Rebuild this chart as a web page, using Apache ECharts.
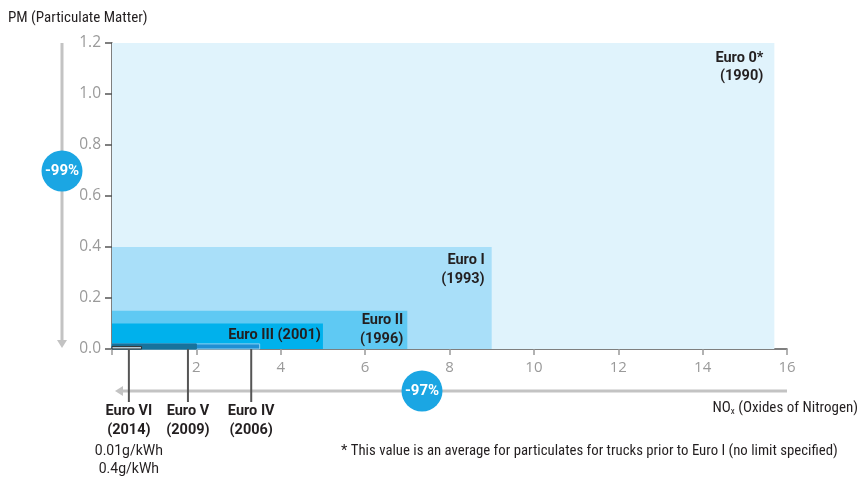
<!DOCTYPE html>
<html>
<head>
<meta charset="utf-8">
<script src="https://cdn.jsdelivr.net/npm/echarts@6/dist/echarts.min.js"></script>
<style>
html,body{margin:0;padding:0;background:#fff;}
#chart{width:861px;height:477px;}
</style>
</head>
<body>
<div id="chart"></div>
<script>
// ---- data ----
const categories = ['Euro 0*', 'Euro I', 'Euro II', 'Euro III', 'Euro IV', 'Euro V', 'Euro VI'];
const years = ['1990', '1993', '1996', '2001', '2006', '2009', '2014'];
const noxLimits = [15.7, 9.0, 7.0, 5.0, 3.5, 2.0, 0.7];
const pmLimits = [1.2, 0.4, 0.15, 0.1, 0.02, 0.02, 0.01];
const leaderX = [null, null, null, null, 3.3, 1.8, 0.4];
const xTicks = [0, 2, 4, 6, 8, 10, 12, 14, 16];
const yTicks = [0, 0.2, 0.4, 0.6, 0.8, 1.0, 1.2];

const NARROW = "'Liberation Sans Narrow', 'Roboto Condensed', 'Noto Sans', sans-serif";
const BOLD = "Roboto, 'Noto Sans', sans-serif";
const TICKF = "'Open Sans', 'Noto Sans', sans-serif";
const fills = ['#e0f3fc', '#a9dff9', '#5fc9f3', '#00b1ec', '#1f8fd3', '#17729c', '#b3c9d4'];
const strokes = ['#e0f3fc', '#b9e6fa', '#7fd5f6', '#00b1ec', '#8fd0f1', '#17729c', '#333333'];

const chart = echarts.init(document.getElementById('chart'));

function renderItem(params, api) {
  const i = params.dataIndex;
  const x = api.value(0), y = api.value(1);
  const p0 = api.coord([0, 0]);
  const p1 = api.coord([x, y]);
  const children = [{
    type: 'rect',
    shape: { x: p0[0], y: p1[1], width: p1[0] - p0[0], height: p0[1] - p1[1] },
    style: { fill: fills[i], stroke: strokes[i], lineWidth: i >= 4 ? 1 : 0 }
  }];
  const bold = { fontFamily: BOLD, fontWeight: 'bold', fontSize: 14.5, fill: '#231f20' };
  if (i === 0) {
    children.push({ type: 'text', x: p1[0] - 11, y: p1[1] + 6,
      style: Object.assign({ text: categories[i] + '\n(' + years[i] + ')', align: 'right', verticalAlign: 'top', lineHeight: 18 }, bold) });
  } else if (i === 1) {
    children.push({ type: 'text', x: p1[0] - 7, y: p1[1] + 4,
      style: Object.assign({ text: categories[i] + '\n(' + years[i] + ')', align: 'right', verticalAlign: 'top', lineHeight: 19 }, bold) });
  } else if (i === 2) {
    children.push({ type: 'text', x: p1[0] - 4, y: p1[1] + 0,
      style: Object.assign({ text: categories[i] + '\n(' + years[i] + ')', align: 'right', verticalAlign: 'top', lineHeight: 19 }, bold) });
  } else if (i === 3) {
    children.push({ type: 'text', x: p1[0] - 2, y: (p1[1] + p0[1]) / 2 - 1,
      style: Object.assign({ text: categories[i] + ' (' + years[i] + ')', align: 'right', verticalAlign: 'middle' }, bold) });
  } else {
    const lx = api.coord([leaderX[i], 0])[0];
    children.push({ type: 'line', shape: { x1: lx, y1: p0[1], x2: lx, y2: p0[1] + 53 },
      style: { stroke: '#555', lineWidth: 2 } });
    children.push({ type: 'text', x: lx, y: p0[1] + 53,
      style: Object.assign({ text: categories[i] + '\n(' + years[i] + ')', align: 'center', verticalAlign: 'top', lineHeight: 19 }, bold) });
    if (i === 6) {
      children.push({ type: 'text', x: lx, y: p0[1] + 93,
        style: { text: '0.01g/kWh\n0.4g/kWh', align: 'center', verticalAlign: 'top', lineHeight: 18,
          fontFamily: BOLD, fontSize: 14, fill: '#231f20' } });
    }
  }
  return { type: 'group', children: children };
}

chart.setOption({
  animation: false,
  grid: { left: 112, right: 74, top: 43, bottom: 128, containLabel: false },
  xAxis: {
    type: 'value', min: xTicks[0], max: xTicks[xTicks.length - 1], interval: 2,
    axisLine: { show: true, lineStyle: { color: '#555', width: 1.5 } },
    axisTick: { show: true, length: 6, lineStyle: { color: '#999', width: 1.5 } },
    axisLabel: { color: '#9a9a9a', fontSize: 15, fontFamily: TICKF, margin: 11,
      formatter: v => v === 0 ? '' : String(v) },
    splitLine: { show: false }
  },
  yAxis: {
    type: 'value', min: yTicks[0], max: yTicks[yTicks.length - 1], interval: 0.2,
    axisLine: { show: true, lineStyle: { color: '#555', width: 1.5 } },
    axisTick: { show: true, length: 7, lineStyle: { color: '#555', width: 1.5 } },
    axisLabel: { color: '#9a9a9a', fontSize: 15.5, fontFamily: TICKF, margin: 11,
      formatter: v => v.toFixed(1) },
    splitLine: { show: false }
  },
  series: [{
    type: 'custom',
    renderItem: renderItem,
    clip: false,
    data: noxLimits.map((v, i) => [v, pmLimits[i]]),
    z: 2
  }]
});

// decorative arrows and percentage badges
const pyTop = chart.convertToPixel({ yAxisIndex: 0 }, yTicks[yTicks.length - 1]);
const pyBottom = chart.convertToPixel({ yAxisIndex: 0 }, 0);
const pxLeft = chart.convertToPixel({ xAxisIndex: 0 }, 0);
const pxRight = chart.convertToPixel({ xAxisIndex: 0 }, xTicks[xTicks.length - 1]);
const vx = 62, hy = 391;
const grey = '#c3c3c3';
const badgeText = { align: 'center', verticalAlign: 'middle', fill: '#fff', fontWeight: 'bold', fontSize: 15, fontFamily: BOLD };
chart.setOption({
  graphic: [
    { type: 'line', shape: { x1: vx, y1: pyTop, x2: vx, y2: pyBottom - 6 }, style: { stroke: grey, lineWidth: 3 } },
    { type: 'polygon', shape: { points: [[vx - 5, pyBottom - 9], [vx + 5, pyBottom - 9], [vx, pyBottom - 1]] }, style: { fill: grey } },
    { type: 'line', shape: { x1: pxRight, y1: hy, x2: pxLeft + 8, y2: hy }, style: { stroke: grey, lineWidth: 3 } },
    { type: 'polygon', shape: { points: [[pxLeft + 11, hy - 5], [pxLeft + 11, hy + 5], [pxLeft + 3, hy]] }, style: { fill: grey } },
    { type: 'circle', shape: { cx: vx, cy: 171, r: 20.5 }, style: { fill: '#1ba6e3' } },
    { type: 'text', x: vx, y: 171, style: Object.assign({ text: '-99%' }, badgeText) },
    { type: 'circle', shape: { cx: 422, cy: hy, r: 20.5 }, style: { fill: '#1ba6e3' } },
    { type: 'text', x: 422, y: hy, style: Object.assign({ text: '-97%' }, badgeText) },
    { type: 'text', left: 8, top: 11, style: { text: 'PM (Particulate Matter)', fill: '#231f20', fontSize: 15, fontFamily: NARROW } },
    { type: 'text', right: 3, top: 401, style: { rich: { n: { fontSize: 15, fontFamily: NARROW, fill: '#231f20' }, s: { fontSize: 9, fontFamily: NARROW, fill: '#231f20', verticalAlign: 'bottom', padding: [7, 0, 0, 0] } },
      text: '{n|NO}{s|x}{n| (Oxides of Nitrogen)}' } },
    { type: 'text', left: 341, top: 444, style: { text: '* This value is an average for particulates for trucks prior to Euro I (no limit specified)', fill: '#231f20', fontSize: 14.8, fontFamily: NARROW } }
  ]
});
</script>
</body>
</html>
